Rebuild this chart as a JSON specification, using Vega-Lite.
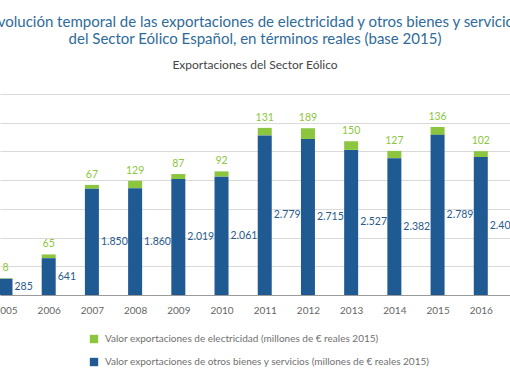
{
  "$schema": "https://vega.github.io/schema/vega-lite/v6.json",
  "width": 510,
  "height": 201,
  "autosize": {"type": "none"},
  "padding": {"left": 0, "right": 0, "top": 94, "bottom": 87},
  "background": "white",
  "config": {
    "view": {"stroke": null},
    "font": "Lato",
    "locale": {"number": {"decimal": ",", "thousands": ".", "grouping": [3], "currency": ["", " €"]}}
  },
  "title": {
    "text": ["Evolución temporal de las exportaciones de electricidad y otros bienes y servicios", "del Sector Eólico Español, en términos reales (base 2015)"],
    "subtitle": "Exportaciones del Sector Eólico",
    "anchor": "middle",
    "font": "Lato",
    "fontSize": 15,
    "fontWeight": "normal",
    "color": "#2f6b9a",
    "lineHeight": 17,
    "subtitleFont": "Lato",
    "subtitleFontSize": 12,
    "subtitleColor": "#444444",
    "subtitlePadding": 13,
    "offset": 23
  },
  "data": {"values": [
    {"year": 2005, "series": "Valor exportaciones de electricidad (millones de € reales 2015)", "value": 8},
    {"year": 2005, "series": "Valor exportaciones de otros bienes y servicios (millones de € reales 2015)", "value": 285},
    {"year": 2006, "series": "Valor exportaciones de electricidad (millones de € reales 2015)", "value": 65},
    {"year": 2006, "series": "Valor exportaciones de otros bienes y servicios (millones de € reales 2015)", "value": 641},
    {"year": 2007, "series": "Valor exportaciones de electricidad (millones de € reales 2015)", "value": 67},
    {"year": 2007, "series": "Valor exportaciones de otros bienes y servicios (millones de € reales 2015)", "value": 1850},
    {"year": 2008, "series": "Valor exportaciones de electricidad (millones de € reales 2015)", "value": 129},
    {"year": 2008, "series": "Valor exportaciones de otros bienes y servicios (millones de € reales 2015)", "value": 1860},
    {"year": 2009, "series": "Valor exportaciones de electricidad (millones de € reales 2015)", "value": 87},
    {"year": 2009, "series": "Valor exportaciones de otros bienes y servicios (millones de € reales 2015)", "value": 2019},
    {"year": 2010, "series": "Valor exportaciones de electricidad (millones de € reales 2015)", "value": 92},
    {"year": 2010, "series": "Valor exportaciones de otros bienes y servicios (millones de € reales 2015)", "value": 2061},
    {"year": 2011, "series": "Valor exportaciones de electricidad (millones de € reales 2015)", "value": 131},
    {"year": 2011, "series": "Valor exportaciones de otros bienes y servicios (millones de € reales 2015)", "value": 2779},
    {"year": 2012, "series": "Valor exportaciones de electricidad (millones de € reales 2015)", "value": 189},
    {"year": 2012, "series": "Valor exportaciones de otros bienes y servicios (millones de € reales 2015)", "value": 2715},
    {"year": 2013, "series": "Valor exportaciones de electricidad (millones de € reales 2015)", "value": 150},
    {"year": 2013, "series": "Valor exportaciones de otros bienes y servicios (millones de € reales 2015)", "value": 2527},
    {"year": 2014, "series": "Valor exportaciones de electricidad (millones de € reales 2015)", "value": 127},
    {"year": 2014, "series": "Valor exportaciones de otros bienes y servicios (millones de € reales 2015)", "value": 2382},
    {"year": 2015, "series": "Valor exportaciones de electricidad (millones de € reales 2015)", "value": 136},
    {"year": 2015, "series": "Valor exportaciones de otros bienes y servicios (millones de € reales 2015)", "value": 2789},
    {"year": 2016, "series": "Valor exportaciones de electricidad (millones de € reales 2015)", "value": 102},
    {"year": 2016, "series": "Valor exportaciones de otros bienes y servicios (millones de € reales 2015)", "value": 2402}
  ]},
  "transform": [
    {"stack": "value", "groupby": ["year"], "as": ["v0", "v1"], "sort": [{"field": "series", "order": "descending"}]}
  ],
  "layer": [
    {
      "mark": {"type": "bar", "width": 14},
      "encoding": {
        "x": {
          "field": "year", "type": "quantitative",
          "scale": {"domain": [2004.9887, 2016.5605], "nice": false, "zero": false},
          "axis": {"values": [2005, 2006, 2007, 2008, 2009, 2010, 2011, 2012, 2013, 2014, 2015, 2016], "format": "d", "title": null, "grid": false, "ticks": false, "domainColor": "#9a9a9a", "domainWidth": 1, "labelColor": "#666666", "labelFontSize": 10, "labelPadding": 10, "labelFlush": false, "labelOverlap": false}
        },
        "y": {
          "field": "v1", "type": "quantitative",
          "scale": {"domain": [0, 3500], "nice": false},
          "axis": {"values": [500, 1000, 1500, 2000, 2500, 3000, 3500], "labels": false, "ticks": false, "domain": false, "title": null, "grid": true, "gridColor": "#dadada", "gridWidth": 1}
        },
        "y2": {"field": "v0"},
        "color": {
          "field": "series", "type": "nominal",
          "scale": {"domain": ["Valor exportaciones de electricidad (millones de € reales 2015)", "Valor exportaciones de otros bienes y servicios (millones de € reales 2015)"], "range": ["#8cc63e", "#1f5a93"]},
          "legend": {"orient": "none", "legendX": 89, "legendY": 240, "title": null, "direction": "vertical", "symbolType": "square", "symbolSize": 70, "symbolStrokeWidth": 0, "labelFontSize": 10, "labelColor": "#707070", "labelOffset": 6, "rowPadding": 13, "labelLimit": 500}
        }
      }
    },
    {
      "transform": [{"filter": "datum.series === 'Valor exportaciones de electricidad (millones de € reales 2015)'"}],
      "mark": {"type": "text", "baseline": "bottom", "align": "center", "dy": -5, "fontSize": 10.5, "color": "#8cc63e"},
      "encoding": {
        "x": {"field": "year", "type": "quantitative"},
        "y": {"field": "v1", "type": "quantitative", "scale": {"domain": [0, 3500], "nice": false}, "axis": null},
        "text": {"field": "value", "type": "quantitative", "format": ",d"}
      }
    },
    {
      "transform": [{"filter": "datum.series === 'Valor exportaciones de otros bienes y servicios (millones de € reales 2015)'"}],
      "mark": {"type": "text", "baseline": "middle", "align": "left", "dx": 9, "fontSize": 10.5, "color": "#2a5a8c"},
      "encoding": {
        "x": {"field": "year", "type": "quantitative"},
        "y": {"field": "value", "type": "quantitative", "scale": {"domain": [0, 7000], "nice": false}, "axis": null},
        "text": {"field": "value", "type": "quantitative", "format": ",d"}
      }
    }
  ],
  "resolve": {"scale": {"y": "independent"}}
}
